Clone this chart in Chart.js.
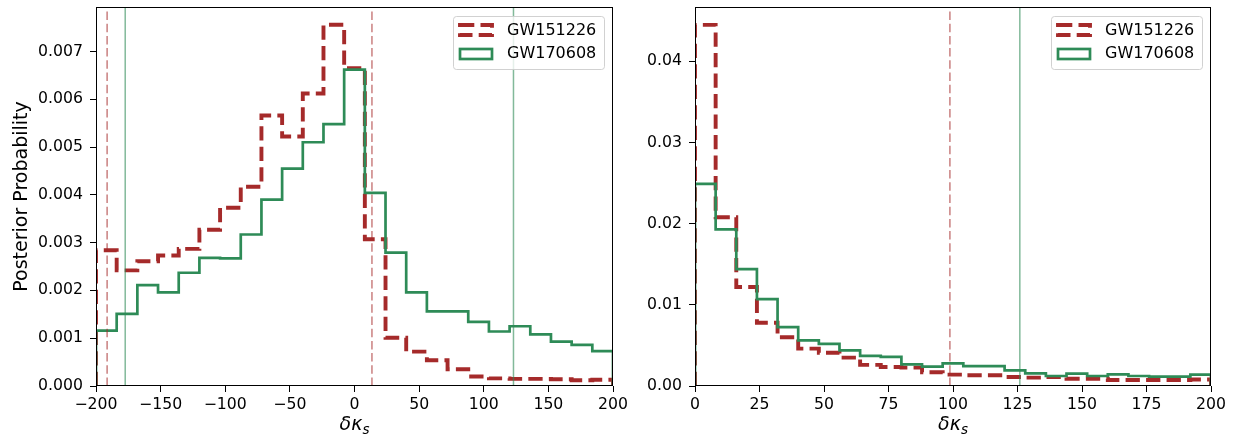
<!DOCTYPE html>
<html>
<head>
<meta charset="utf-8">
<script src="https://cdn.jsdelivr.net/npm/chart.js@4.4.0/dist/chart.umd.min.js"></script>
<style>
  html, body { margin: 0; padding: 0; background: #fff; }
  #wrap { position: relative; width: 1236px; height: 441px; }
  .panel { position: absolute; top: 0; height: 441px; }
</style>
</head>
<body>
<div id="wrap">
  <div class="panel" style="left:0;width:640px"><canvas id="chartLeft" width="640" height="441"></canvas></div>
  <div class="panel" style="left:620px;width:616px"><canvas id="chartRight" width="616" height="441"></canvas></div>
</div>
<script>
// left panel: bins of width 16 from -200 to 200 (left edges)
const leftEdges = [-200, -184, -168, -152, -136, -120, -104, -88, -72, -56, -40, -24, -8,
  8, 24, 40, 56, 72, 88, 104, 120, 136, 152, 168, 184];
const leftEnd = 200;
const redLeft = [0.00284, 0.00242, 0.00261, 0.00273, 0.00287, 0.00327, 0.00373, 0.00417, 0.00566, 0.00522,
  0.00612, 0.00756, 0.00665, 0.00307, 0.00101, 0.00072, 0.00054, 0.00035, 0.00020, 0.00016,
  0.00015, 0.00015, 0.00014, 0.00012, 0.00013];
const greenLeft = [0.00116, 0.00151, 0.00211, 0.00196, 0.00237, 0.00268, 0.00267, 0.00317, 0.00390, 0.00455,
  0.00510, 0.00548, 0.00662, 0.00404, 0.00279, 0.00196, 0.00156, 0.00156, 0.00134, 0.00114,
  0.00125, 0.00108, 0.00093, 0.00086, 0.00073];
const redLinesLeft = [-191.4, 13.5];
const greenLinesLeft = [-177.4, 123.0];
const xTicksLeft = [-200, -150, -100, -50, 0, 50, 100, 150, 200];
const yTicksLeft = [0, 0.001, 0.002, 0.003, 0.004, 0.005, 0.006, 0.007];

// right panel: bins of width 8 from 0 to 200
const rightEdges = [0, 8, 16, 24, 32, 40, 48, 56, 64, 72, 80, 88, 96, 104, 112, 120, 128, 136, 144, 152,
  160, 168, 176, 184, 192];
const rightEnd = 200;
const redRight = [0.0445, 0.0208, 0.0122, 0.0078, 0.0060, 0.0046, 0.0041, 0.0035, 0.0026, 0.00234,
  0.00226, 0.0017, 0.0014, 0.00132, 0.00132, 0.0011, 0.00103, 0.0011, 0.0009, 0.0009,
  0.00074, 0.00074, 0.00074, 0.00074, 0.0008];
const greenRight = [0.0249, 0.0193, 0.0144, 0.0107, 0.00726, 0.00562, 0.0052, 0.0044, 0.0037, 0.0036,
  0.00267, 0.00238, 0.00279, 0.00246, 0.00246, 0.00193, 0.00156, 0.00123, 0.00152, 0.00123,
  0.00144, 0.00123, 0.00115, 0.00115, 0.0014];
const redLinesRight = [98.8];
const greenLinesRight = [125.9];
const xTicksRight = [0, 25, 50, 75, 100, 125, 150, 175, 200];
const yTicksRight = [0, 0.01, 0.02, 0.03, 0.04];

const seriesNames = ['GW151226', 'GW170608'];

const RED = '#a52a2a';
const GREEN = '#2e8b57';
const RED_LIGHT = 'rgba(165, 42, 42, 0.6)';
const GREEN_LIGHT = 'rgba(46, 139, 87, 0.6)';
const FONT = 'DejaVu Sans';

Chart.defaults.font.family = FONT;
Chart.defaults.color = '#000';

// outline of a step histogram: up at first edge, across each bin, down at the end
function stepPoints(edges, values, end) {
  const pts = [{ x: edges[0], y: 0 }];
  edges.forEach((e, i) => pts.push({ x: e, y: values[i] }));
  pts.push({ x: end, y: 0 });
  return pts;
}

function vlines(xs, top, color, dash, label) {
  return xs.map(x => ({
    label: label,
    data: [{ x: x, y: 0 }, { x: x, y: top }],
    borderColor: color,
    borderWidth: 1.5,
    borderDash: dash,
    pointRadius: 0,
    order: 0
  }));
}

// frame (all four spines), inside legend, and the x label with subscript
const decorations = {
  id: 'decorations',
  afterDatasetsDraw(chart) {
    const ctx = chart.ctx;
    const a = chart.chartArea;
    ctx.save();
    ctx.strokeStyle = '#000';
    ctx.lineWidth = 1;
    ctx.strokeRect(Math.round(a.left) + 0.5, Math.round(a.top) + 0.5,
      Math.round(a.right - a.left) - 1, Math.round(a.bottom - a.top) - 1);

    // legend box
    const bw = 151, bh = 53;
    const bx = a.right - 9 - bw, by = a.top + 9;
    ctx.beginPath();
    ctx.roundRect(bx + 0.5, by + 0.5, bw, bh, 3);
    ctx.fillStyle = 'rgba(255,255,255,0.8)';
    ctx.fill();
    ctx.strokeStyle = 'rgba(204,204,204,0.9)';
    ctx.lineWidth = 1;
    ctx.stroke();

    // red dashed handle
    ctx.strokeStyle = RED;
    ctx.lineWidth = 3.9;
    ctx.lineJoin = 'miter';
    ctx.setLineDash([14.3, 6.2]);
    ctx.strokeRect(bx + 7, by + 9, 32, 10);
    // green handle
    ctx.setLineDash([]);
    ctx.strokeStyle = GREEN;
    ctx.lineWidth = 2.7;
    ctx.strokeRect(bx + 7, by + 33, 32, 10);

    ctx.fillStyle = '#000';
    ctx.font = '16px "' + FONT + '"';
    ctx.textBaseline = 'middle';
    ctx.textAlign = 'left';
    ctx.fillText(seriesNames[0], bx + 54, by + 15);
    ctx.fillText(seriesNames[1], bx + 54, by + 38);

    // x axis label: delta kappa_s
    const cx = (a.left + a.right) / 2;
    const base = 430;
    ctx.font = 'italic 19px "' + FONT + '"';
    const w1 = ctx.measureText('\u03b4\u03ba').width;
    ctx.font = 'italic 13.5px "' + FONT + '"';
    const w2 = ctx.measureText('s').width;
    const x0 = cx - (w1 + w2) / 2;
    ctx.textBaseline = 'alphabetic';
    ctx.font = 'italic 19px "' + FONT + '"';
    ctx.fillText('\u03b4\u03ba', x0, base);
    ctx.font = 'italic 13.5px "' + FONT + '"';
    ctx.fillText('s', x0 + w1, base + 3.5);
    ctx.restore();
  }
};

function makeChart(id, cfg) {
  const histStyle = {
    pointRadius: 0,
    stepped: true,
    borderJoinStyle: 'miter',
    borderCapStyle: 'butt'
  };
  const datasets = [
    Object.assign({
      label: seriesNames[0],
      data: stepPoints(cfg.edges, cfg.red, cfg.end),
      borderColor: RED,
      borderWidth: 3.9,
      borderDash: [14.3, 6.2],
      order: 2
    }, histStyle),
    Object.assign({
      label: seriesNames[1],
      data: stepPoints(cfg.edges, cfg.green, cfg.end),
      borderColor: GREEN,
      borderWidth: 2.7,
      order: 1
    }, histStyle)
  ].concat(
    vlines(cfg.redLines, cfg.yMax, RED_LIGHT, [8.5, 3.7], 'red line'),
    vlines(cfg.greenLines, cfg.yMax, GREEN_LIGHT, [], 'green line')
  );

  return new Chart(document.getElementById(id), {
    type: 'line',
    data: { datasets: datasets },
    plugins: [decorations],
    options: {
      responsive: false,
      animation: false,
      devicePixelRatio: 1,
      layout: { padding: { top: 7, right: cfg.padRight, left: 0, bottom: 0 } },
      plugins: { legend: { display: false }, tooltip: { enabled: false } },
      scales: {
        x: {
          type: 'linear',
          min: cfg.xTicks[0],
          max: cfg.xTicks[cfg.xTicks.length - 1],
          afterBuildTicks: s => { s.ticks = cfg.xTicks.map(v => ({ value: v })); },
          afterFit: s => { s.height = 55; s.paddingLeft = 0; s.paddingRight = 0; },
          border: { display: false },
          grid: { drawOnChartArea: false, drawTicks: true, tickLength: 6, color: '#000' },
          ticks: {
            font: { size: 15.7 },
            padding: 3.5,
            maxRotation: 0,
            autoSkip: false,
            callback: v => (v < 0 ? '\u2212' + Math.abs(v) : String(v))
          }
        },
        y: {
          min: 0,
          max: cfg.yMax,
          afterBuildTicks: s => { s.ticks = cfg.yTicks.map(v => ({ value: v })); },
          afterFit: s => { s.width = cfg.yWidth; s.paddingTop = 0; s.paddingBottom = 0; },
          border: { display: false },
          grid: { drawOnChartArea: false, drawTicks: true, tickLength: 6, color: '#000' },
          title: {
            display: !!cfg.yTitle,
            text: cfg.yTitle || '',
            font: { size: 19 },
            padding: { top: 11, bottom: 0 }
          },
          ticks: {
            font: { size: 15.7 },
            padding: 7,
            autoSkip: false,
            callback: v => v.toFixed(cfg.decimals)
          }
        }
      }
    }
  });
}

makeChart('chartLeft', {
  edges: leftEdges, end: leftEnd, red: redLeft, green: greenLeft,
  redLines: redLinesLeft, greenLines: greenLinesLeft,
  xTicks: xTicksLeft, yTicks: yTicksLeft, yMax: 0.00793, decimals: 3,
  yWidth: 96, padRight: 27, yTitle: 'Posterior Probability'
});

makeChart('chartRight', {
  edges: rightEdges, end: rightEnd, red: redRight, green: greenRight,
  redLines: redLinesRight, greenLines: greenLinesRight,
  xTicks: xTicksRight, yTicks: yTicksRight, yMax: 0.0467, decimals: 2,
  yWidth: 75, padRight: 25, yTitle: ''
});
</script>
</body>
</html>
